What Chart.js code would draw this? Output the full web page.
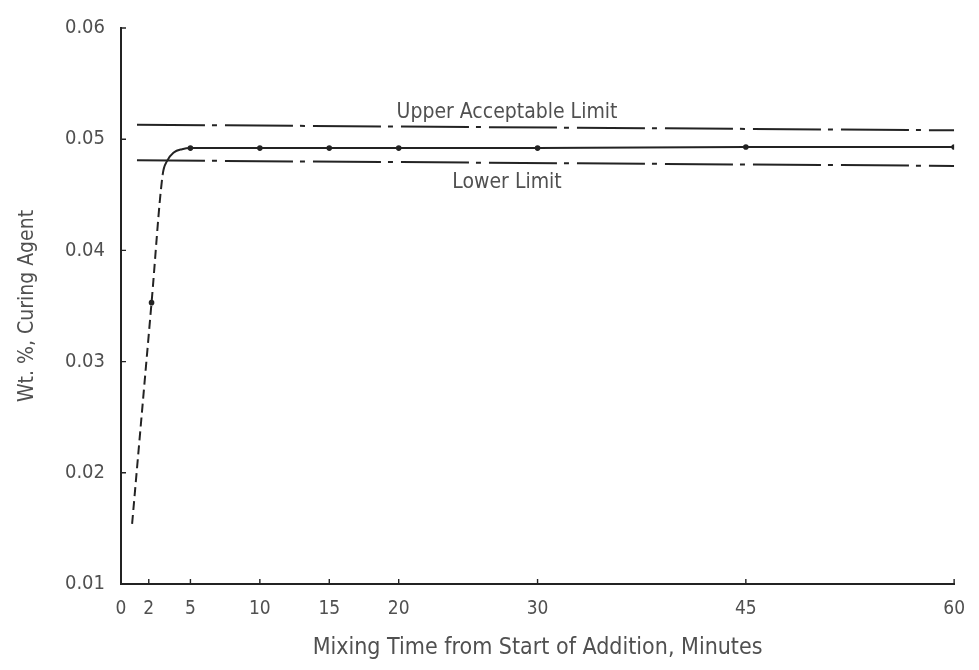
<!DOCTYPE html>
<html>
<head>
<meta charset="utf-8">
<title>Wt. %, Curing Agent vs Mixing Time</title>
<script src="https://cdn.jsdelivr.net/npm/chart.js@4/dist/chart.umd.min.js"></script>
<style>
    html, body { margin: 0; padding: 0; background: #ffffff; }
    #wrap { width: 979px; height: 670px; position: relative; }
</style>
</head>
<body>
<div id="wrap"><canvas id="curingChart"></canvas></div>
<script>
// Tick labels on the x axis (minutes) and y axis range
const xTickValues = [0, 2, 5, 10, 15, 20, 30, 45, 60];
const yTickValues = [0.01, 0.02, 0.03, 0.04, 0.05, 0.06];

// Mixing curve (dashed start, then knee, then flat)
const curveX = [0.8, 2.2, 3.0, 3.3, 3.8, 4.4, 5, 10, 15, 20, 30, 45, 60];
const curveY = [0.0154, 0.0353, 0.0468, 0.0480, 0.0488, 0.0491, 0.0492, 0.0492, 0.0492, 0.0492, 0.0492, 0.0493, 0.0493];

// Sampled points (small dots)
const sampleX = [2.2, 5, 10, 15, 20, 30, 45, 60];
const sampleY = [0.0353, 0.0492, 0.0492, 0.0492, 0.0492, 0.0492, 0.0493, 0.0493];

// Acceptable limits (start / end of each dash-dot line)
const limitX = [1.15, 60];
const upperLimit = [0.0513, 0.0508];
const lowerLimit = [0.0481, 0.0476];

const inkColor = '#232323';
const textColor = '#505050';
const fontFamily = "'DejaVu Sans Condensed', 'Liberation Sans Narrow', 'DejaVu Sans', sans-serif";
const dashDot = [68, 7, 5, 8];

function toPoints(xs, ys) {
    return xs.map((x, i) => ({ x: x, y: ys[i] }));
}

// Draws the small inward tick marks and the limit captions
const decorPlugin = {
    id: 'decor',
    afterDraw(chart) {
        const ctx = chart.ctx;
        const xs = chart.scales.x;
        const ys = chart.scales.y;
        const area = chart.chartArea;
        ctx.save();
        ctx.strokeStyle = inkColor;
        ctx.lineWidth = 1.4;
        ctx.beginPath();
        xTickValues.slice(1).forEach(v => {
            const px = xs.getPixelForValue(v);
            ctx.moveTo(px, area.bottom);
            ctx.lineTo(px, area.bottom - 5);
        });
        yTickValues.slice(1).forEach(v => {
            const py = ys.getPixelForValue(v);
            ctx.moveTo(area.left, py);
            ctx.lineTo(area.left + 5, py);
        });
        ctx.stroke();

        // captions for the limit lines
        ctx.fillStyle = textColor;
        ctx.font = '21px ' + fontFamily;
        ctx.textAlign = 'center';
        ctx.textBaseline = 'middle';
        ctx.fillText('Upper Acceptable Limit', xs.getPixelForValue(27.8), ys.getPixelForValue(0.0524));
        ctx.fillText('Lower Limit', xs.getPixelForValue(27.8), ys.getPixelForValue(0.0461));
        ctx.restore();
    }
};

const ctx = document.getElementById('curingChart').getContext('2d');

new Chart(ctx, {
    type: 'line',
    data: {
        datasets: [
            {
                label: 'Curing agent',
                data: toPoints(curveX, curveY),
                borderColor: inkColor,
                borderWidth: 2,
                pointRadius: 0,
                cubicInterpolationMode: 'monotone',
                segment: {
                    // the rising part is drawn dashed
                    borderDash: c => c.p1DataIndex <= 2 ? [9, 5] : undefined
                }
            },
            {
                label: 'Samples',
                data: toPoints(sampleX, sampleY),
                showLine: false,
                pointRadius: 2.8,
                pointBackgroundColor: inkColor,
                pointBorderColor: inkColor,
                borderWidth: 0
            },
            {
                label: 'Upper Acceptable Limit',
                data: toPoints(limitX, upperLimit),
                borderColor: inkColor,
                borderWidth: 2,
                borderDash: dashDot,
                pointRadius: 0
            },
            {
                label: 'Lower Limit',
                data: toPoints(limitX, lowerLimit),
                borderColor: inkColor,
                borderWidth: 2,
                borderDash: dashDot,
                pointRadius: 0
            }
        ]
    },
    options: {
        responsive: true,
        maintainAspectRatio: false,
        animation: false,
        layout: {
            padding: { left: 0, right: 17, top: 19, bottom: 0 }
        },
        plugins: {
            legend: { display: false },
            tooltip: { enabled: false }
        },
        scales: {
            x: {
                type: 'linear',
                min: 0,
                max: 60,
                afterBuildTicks: scale => {
                    scale.ticks = xTickValues.map(v => ({ value: v }));
                },
                afterFit: scale => { scale.height = 86; },
                grid: { display: true, drawOnChartArea: false, drawTicks: false },
                border: { color: inkColor, width: 2 },
                ticks: {
                    color: textColor,
                    padding: 14,
                    autoSkip: false,
                    maxRotation: 0,
                    font: { family: fontFamily, size: 19 }
                },
                title: {
                    display: true,
                    text: 'Mixing Time from Start of Addition, Minutes',
                    color: textColor,
                    padding: { top: 10, bottom: 8 },
                    font: { family: fontFamily, size: 23 }
                }
            },
            y: {
                type: 'linear',
                min: 0.01,
                max: 0.06,
                afterBuildTicks: scale => {
                    scale.ticks = yTickValues.map(v => ({ value: v }));
                },
                afterFit: scale => { scale.width = 121; },
                grid: { display: true, drawOnChartArea: false, drawTicks: false },
                border: { color: inkColor, width: 2 },
                ticks: {
                    color: textColor,
                    padding: 16,
                    callback: v => v.toFixed(2),
                    font: { family: fontFamily, size: 20 }
                },
                title: {
                    display: true,
                    text: 'Wt. %, Curing Agent',
                    color: textColor,
                    padding: { top: 15, bottom: 0 },
                    font: { family: fontFamily, size: 21 }
                }
            }
        }
    },
    plugins: [decorPlugin]
});
</script>
</body>
</html>
